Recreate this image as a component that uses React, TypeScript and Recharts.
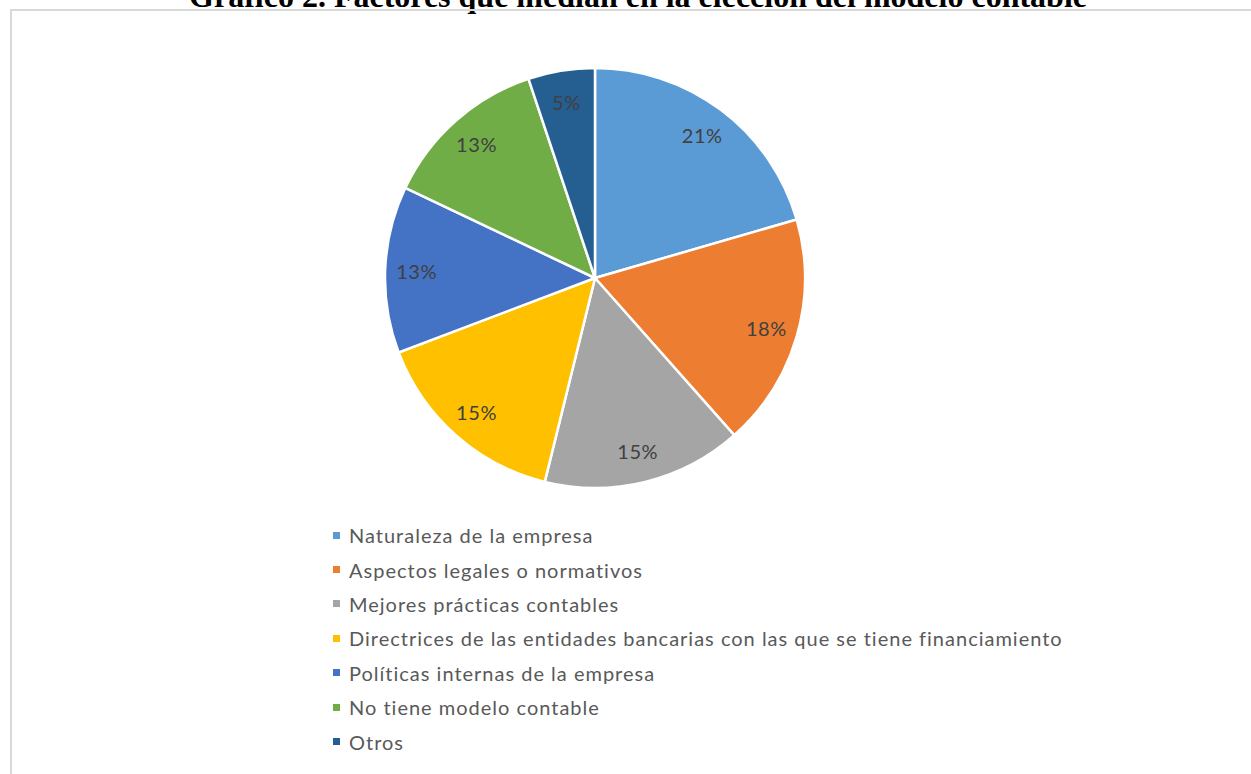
import React from 'react';
import { PieChart, Pie, Cell, Legend } from 'recharts';

const factores = [
  'Naturaleza de la empresa',
  'Aspectos legales o normativos',
  'Mejores prácticas contables',
  'Directrices de las entidades bancarias con las que se tiene financiamiento',
  'Políticas internas de la empresa',
  'No tiene modelo contable',
  'Otros',
];
const respuestas = [8, 7, 6, 6, 5, 5, 2];
const colores = ['#5B9BD5', '#ED7D31', '#A5A5A5', '#FFC000', '#4472C4', '#70AD47', '#255E91'];

const data = factores.map((name, i) => ({ name, value: respuestas[i] }));

const RADIAN = Math.PI / 180;

const renderLabel = ({ cx, cy, midAngle, outerRadius, percent }: any) => {
  const r = outerRadius * 0.85;
  const x = cx + r * Math.cos(-midAngle * RADIAN);
  const y = cy + r * Math.sin(-midAngle * RADIAN);
  return (
    <text x={x} y={y} fill="#404040" fontSize={20} fontFamily="Lato, sans-serif" letterSpacing={0.6}
      textAnchor="middle" dominantBaseline="central">
      {`${Math.round(percent * 100)}%`}
    </text>
  );
};

// legend drawn from our own arrays so the order stays as in the source
const renderLegend = () => (
  <div style={{ fontFamily: 'Lato, sans-serif', fontSize: 20, letterSpacing: 1, color: '#595959' }}>
    {factores.map((name, i) => (
      <div key={i} style={{ display: 'flex', alignItems: 'center', height: 34.4 }}>
        <span style={{ width: 7, height: 7, background: colores[i], marginRight: 9, display: 'inline-block' }} />
        <span>{name}</span>
      </div>
    ))}
  </div>
);

export default function App() {
  return (
    <div style={{ position: 'absolute', left: 0, top: 0, width: 1251, height: 774, overflow: 'hidden', background: '#fff' }}>
      <div style={{
        position: 'absolute', left: 0, width: 1251, top: -20, textAlign: 'center', paddingLeft: 25, boxSizing: 'border-box',
        fontFamily: '"Liberation Serif", serif', fontWeight: 'bold', fontSize: 32, lineHeight: '32px',
      }}>
        Gráfico 2. Factores que median en la elección del modelo contable
      </div>
      <div style={{ position: 'absolute', left: 10, top: 9, width: 1400, height: 900, border: '2px solid #D9D9D9' }} />
      <PieChart width={1251} height={774} margin={{ top: 0, right: 0, bottom: 0, left: 0 }}
        style={{ position: 'absolute', left: 0, top: 0 }}>
        <Pie
          data={data}
          dataKey="value"
          nameKey="name"
          cx={595}
          cy={278}
          outerRadius={210}
          startAngle={90}
          endAngle={-270}
          stroke="#fff"
          strokeWidth={2.5}
          label={renderLabel}
          labelLine={false}
          isAnimationActive={false}
        >
          {data.map((_, i) => (
            <Cell key={i} fill={colores[i]} />
          ))}
        </Pie>
        <Legend
          layout="horizontal"
          align="left"
          verticalAlign="bottom"
          wrapperStyle={{ left: 333, top: 518, bottom: 'auto', width: 900 }}
          content={renderLegend}
        />
      </PieChart>
    </div>
  );
}
